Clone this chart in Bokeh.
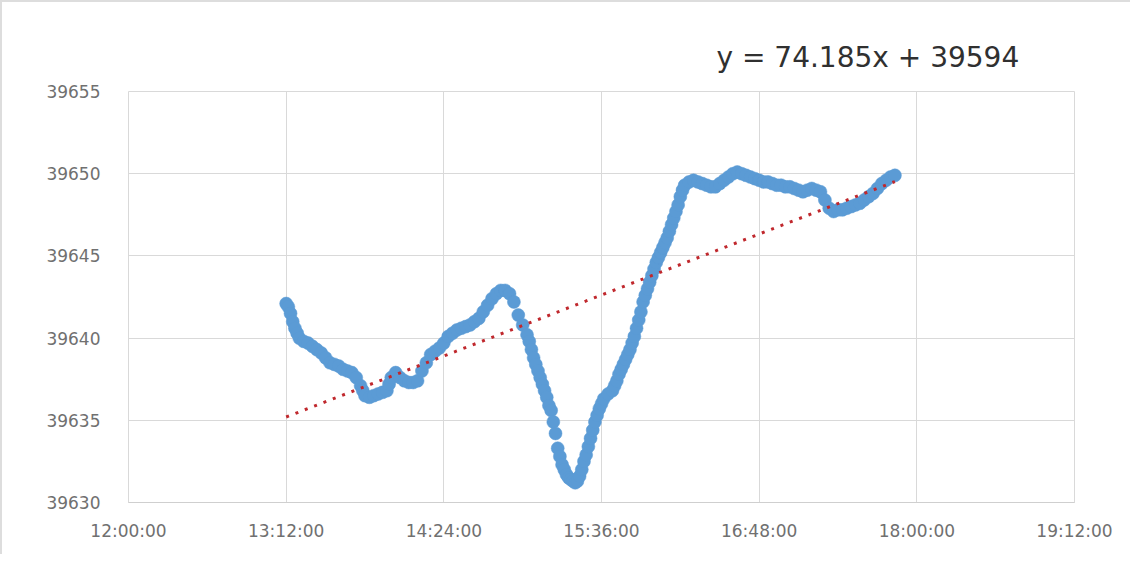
from bokeh.plotting import figure
from bokeh.models import Range1d, FixedTicker, Title
from bokeh.embed import file_html
from bokeh.resources import INLINE

# ---- data ----
times = [
    "13:12", "13:13", "13:14", "13:15", "13:16", "13:17", "13:18", "13:20", "13:22", "13:24",
    "13:26", "13:28", "13:30", "13:32", "13:34", "13:36", "13:38", "13:40", "13:42", "13:44",
    "13:46", "13:47", "13:48", "13:50", "13:52", "13:54", "13:56", "13:58", "13:59", "14:00",
    "14:02", "14:04", "14:06", "14:08", "14:10", "14:12", "14:14", "14:16", "14:18", "14:20",
    "14:22", "14:24", "14:26", "14:28", "14:30", "14:32", "14:34", "14:36", "14:38", "14:40",
    "14:42", "14:44", "14:46", "14:48", "14:50", "14:52", "14:54", "14:56", "14:58", "15:00",
    "15:02", "15:03", "15:04", "15:05", "15:06", "15:07", "15:08", "15:09", "15:10", "15:11",
    "15:12", "15:13", "15:14", "15:15", "15:16", "15:17", "15:18", "15:19", "15:20", "15:21",
    "15:22", "15:23", "15:24", "15:25", "15:26", "15:27", "15:28", "15:29", "15:30", "15:31",
    "15:32", "15:33", "15:34", "15:35", "15:36", "15:37", "15:39", "15:41", "15:42", "15:43",
    "15:44", "15:45", "15:46", "15:47", "15:48", "15:49", "15:50", "15:51", "15:52", "15:53",
    "15:54", "15:55", "15:56", "15:57", "15:58", "15:59", "16:00", "16:01", "16:02", "16:03",
    "16:04", "16:05", "16:06", "16:07", "16:08", "16:09", "16:10", "16:11", "16:12", "16:13",
    "16:14", "16:16", "16:18", "16:20", "16:22", "16:24", "16:26", "16:28", "16:30", "16:32",
    "16:34", "16:36", "16:38", "16:40", "16:42", "16:44", "16:46", "16:48", "16:50", "16:52",
    "16:54", "16:56", "16:58", "17:00", "17:02", "17:04", "17:06", "17:08", "17:10", "17:12",
    "17:14", "17:16", "17:18", "17:20", "17:22", "17:24", "17:26", "17:28", "17:30", "17:32",
    "17:34", "17:36", "17:38", "17:40", "17:42", "17:44", "17:46", "17:48", "17:50",
]
values = [
    39642.1, 39641.9, 39641.5, 39641.0, 39640.6, 39640.3, 39640.0, 39639.8, 39639.7, 39639.5,
    39639.3, 39639.1, 39638.8, 39638.5, 39638.4, 39638.3, 39638.1, 39638.0, 39637.9, 39637.6,
    39637.1, 39636.8, 39636.5, 39636.4, 39636.5, 39636.6, 39636.7, 39636.8, 39637.2, 39637.6,
    39637.9, 39637.6, 39637.4, 39637.3, 39637.3, 39637.4, 39638.0, 39638.5, 39639.0, 39639.2,
    39639.4, 39639.7, 39640.1, 39640.3, 39640.5, 39640.6, 39640.7, 39640.8, 39641.0, 39641.2,
    39641.6, 39642.0, 39642.4, 39642.7, 39642.9, 39642.9, 39642.7, 39642.2, 39641.4, 39640.8,
    39640.2, 39639.8, 39639.3, 39638.8, 39638.4, 39638.0, 39637.6, 39637.2, 39636.8, 39636.4,
    39635.9, 39635.6, 39634.9, 39634.2, 39633.3, 39632.8, 39632.3, 39632.0, 39631.7, 39631.5,
    39631.4, 39631.3, 39631.2, 39631.3, 39631.6, 39632.0, 39632.5, 39632.9, 39633.4, 39633.9,
    39634.4, 39634.9, 39635.3, 39635.7, 39636.0, 39636.3, 39636.6, 39636.8, 39637.1, 39637.4,
    39637.8, 39638.1, 39638.4, 39638.7, 39639.0, 39639.3, 39639.7, 39640.1, 39640.6, 39641.1,
    39641.6, 39642.2, 39642.6, 39643.0, 39643.4, 39643.8, 39644.2, 39644.6, 39644.9, 39645.2,
    39645.5, 39645.8, 39646.1, 39646.5, 39646.9, 39647.3, 39647.7, 39648.1, 39648.6, 39649.0,
    39649.3, 39649.5, 39649.6, 39649.5, 39649.4, 39649.3, 39649.2, 39649.2, 39649.4, 39649.6,
    39649.8, 39650.0, 39650.1, 39650.0, 39649.9, 39649.8, 39649.7, 39649.6, 39649.5, 39649.5,
    39649.4, 39649.3, 39649.3, 39649.2, 39649.2, 39649.1, 39649.0, 39648.9, 39649.0, 39649.1,
    39649.0, 39648.9, 39648.4, 39647.9, 39647.7, 39647.8, 39647.8, 39647.9, 39648.0, 39648.1,
    39648.2, 39648.4, 39648.6, 39648.8, 39649.1, 39649.4, 39649.6, 39649.8, 39649.9,
]

x_ticks = [0.5, 0.55, 0.6, 0.65, 0.7, 0.75, 0.8]
x_tick_labels = ["12:00:00", "13:12:00", "14:24:00", "15:36:00", "16:48:00", "18:00:00", "19:12:00"]
y_ticks = [39630, 39635, 39640, 39645, 39650, 39655]

trend_slope = 74.185
trend_intercept = 39594.4
trend_label = "y = 74.185x + 39594"


def day_fraction(t):
    h, m = t.split(":")
    return (int(h) * 60 + int(m)) / 1440.0


xs = [day_fraction(t) for t in times]

p = figure(width=1130, height=554, output_backend="svg", toolbar_location=None,
           x_range=Range1d(0.5, 0.8), y_range=Range1d(39630, 39655),
           min_border_left=126, min_border_right=58, min_border_top=89, min_border_bottom=54)
p.background_fill_color = "white"
p.border_fill_color = "white"
p.outline_line_color = "#d9d9d9"
p.outline_line_width = 1

grid_col = "#d9d9d9"
p.xaxis.ticker = FixedTicker(ticks=x_ticks)
p.yaxis.ticker = FixedTicker(ticks=y_ticks)
p.xaxis.major_label_overrides = {t: l for t, l in zip(x_ticks, x_tick_labels)}
p.xgrid.grid_line_color = grid_col
p.ygrid.grid_line_color = grid_col
p.xgrid.ticker = FixedTicker(ticks=x_ticks)
p.ygrid.ticker = FixedTicker(ticks=y_ticks)

for ax in (p.xaxis, p.yaxis):
    ax.major_tick_line_color = None
    ax.minor_tick_line_color = None
    ax.major_label_text_font = "DejaVu Sans"
    ax.major_label_text_font_size = "17px"
    ax.major_label_text_color = "#707070"
p.yaxis.axis_line_color = None
p.xaxis.axis_line_color = "#cfcfcf"
p.yaxis.major_label_standoff = 22
p.xaxis.major_label_standoff = 12

p.scatter(xs, values, size=13, fill_color="#5b9bd5", line_color="#5b9bd5", line_width=0.5)

tx = [min(xs), max(xs)]
ty = [trend_slope * x + trend_intercept for x in tx]
p.line(tx, ty, line_color="#c0282d", line_width=3, line_dash="3 7")

eq = Title(text=trend_label, align="left", offset=588, standoff=35,
           text_font="DejaVu Sans", text_font_size="28px", text_font_style="normal",
           text_color="#303030")
p.add_layout(eq, "above")

p.styles = {"border-left": "2px solid #dddddd", "border-top": "2px solid #dddddd"}

open("out.html", "w").write(file_html(p, INLINE))
